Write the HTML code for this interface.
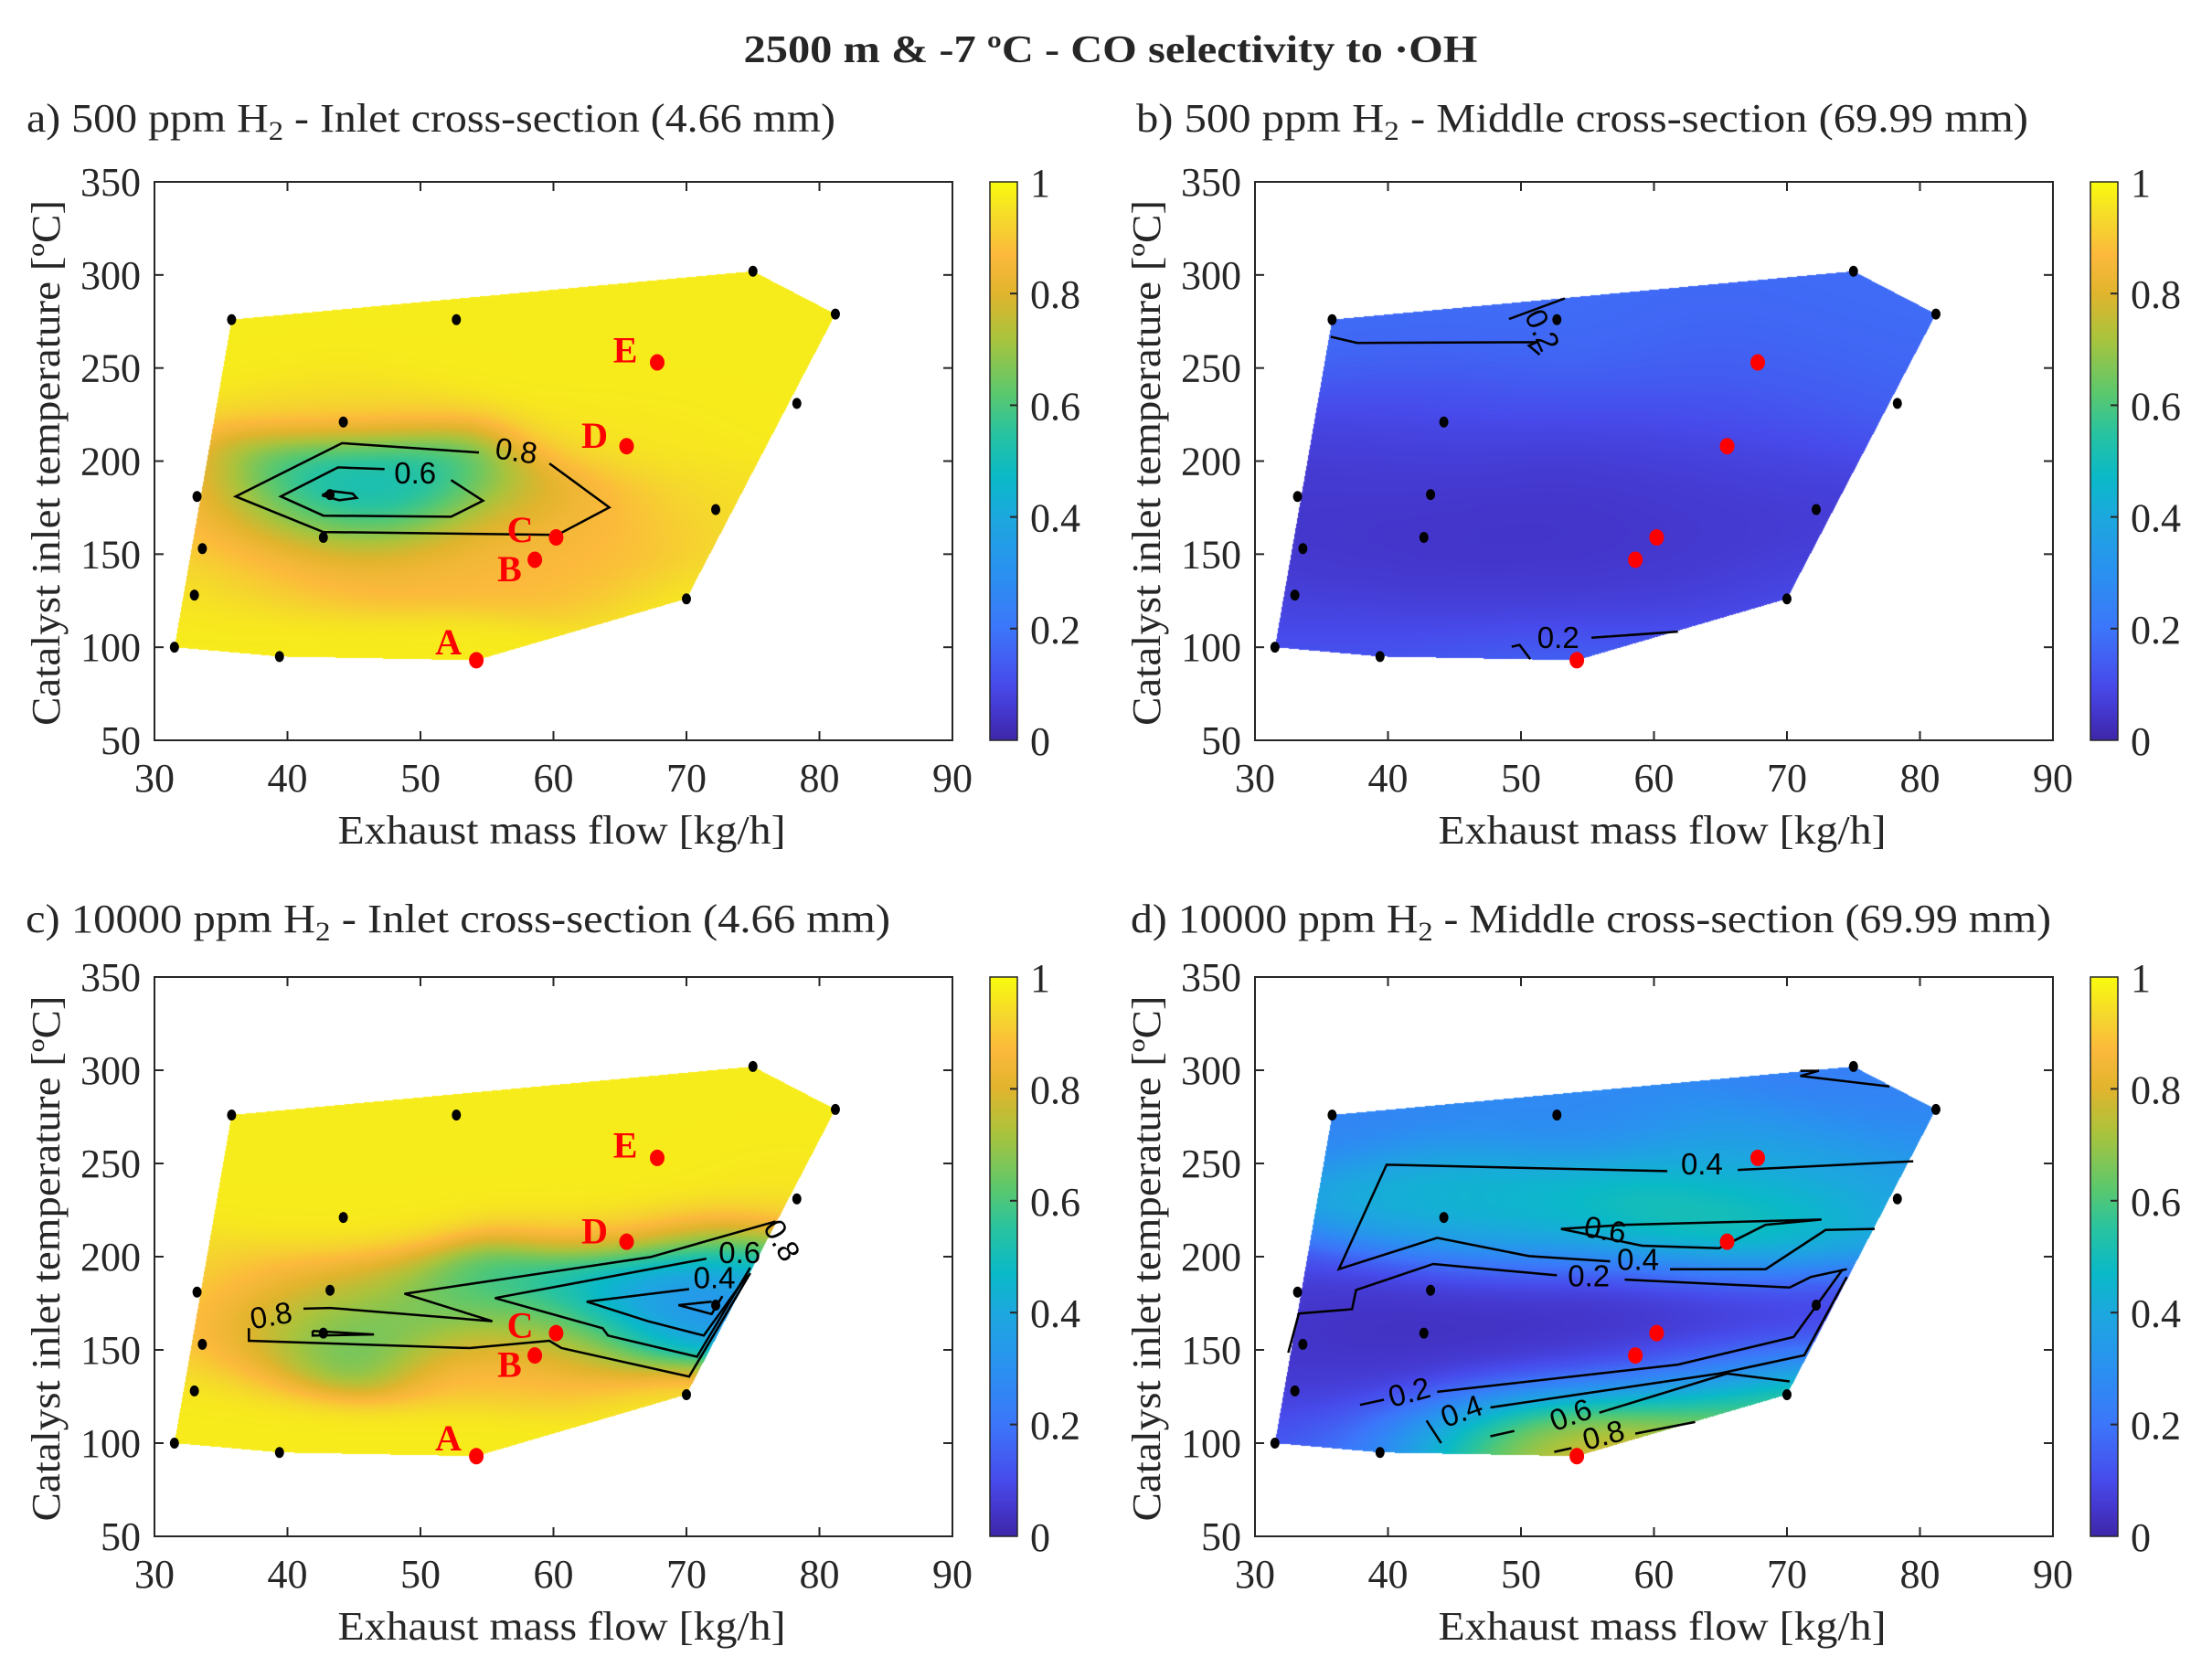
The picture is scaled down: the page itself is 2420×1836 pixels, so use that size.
<!DOCTYPE html>
<html><head><meta charset="utf-8">
<style>
html,body{margin:0;padding:0;background:#fff;}
#wrap{position:relative;width:2420px;height:1836px;overflow:hidden;background:#fff;}
canvas{position:absolute;}
svg{position:absolute;left:0;top:0;}
text{font-family:"Liberation Serif",serif;fill:#262626;}
.cl{font-family:"Liberation Sans",sans-serif;font-size:33px;fill:#000;}
.rl{font-family:"Liberation Serif",serif;font-weight:bold;font-size:40px;fill:#ff0000;}
</style></head>
<body>
<div id="wrap">
<canvas id="cvA" width="873" height="611" style="left:169px;top:199px"></canvas>
<canvas id="cvB" width="873" height="611" style="left:1373px;top:199px"></canvas>
<canvas id="cvC" width="873" height="612" style="left:169px;top:1069px"></canvas>
<canvas id="cvD" width="873" height="612" style="left:1373px;top:1069px"></canvas>
<svg id="sv" width="2420" height="1836" xmlns="http://www.w3.org/2000/svg">
<text x="1215" y="68" text-anchor="middle" font-size="42" font-weight="bold" fill="#000" textLength="803" lengthAdjust="spacingAndGlyphs">2500 m &amp; -7 ºC - CO selectivity to ·OH</text>
<text x="29" y="144" font-size="44" textLength="885" lengthAdjust="spacingAndGlyphs">a) 500 ppm H<tspan font-size="30" dy="9">2</tspan><tspan dy="-9"> - Inlet cross-section (4.66 mm)</tspan></text>
<text x="1243" y="144" font-size="44" textLength="976" lengthAdjust="spacingAndGlyphs">b) 500 ppm H<tspan font-size="30" dy="9">2</tspan><tspan dy="-9"> - Middle cross-section (69.99 mm)</tspan></text>
<text x="28" y="1020" font-size="44" textLength="946" lengthAdjust="spacingAndGlyphs">c) 10000 ppm H<tspan font-size="30" dy="9">2</tspan><tspan dy="-9"> - Inlet cross-section (4.66 mm)</tspan></text>
<text x="1237" y="1020" font-size="44" textLength="1007" lengthAdjust="spacingAndGlyphs">d) 10000 ppm H<tspan font-size="30" dy="9">2</tspan><tspan dy="-9"> - Middle cross-section (69.99 mm)</tspan></text>
<defs>
<linearGradient id="parula" x1="0" y1="1" x2="0" y2="0">
<stop offset="0" stop-color="rgb(62,38,168)"/><stop offset="0.05" stop-color="rgb(68,55,205)"/><stop offset="0.1" stop-color="rgb(71,75,235)"/><stop offset="0.2" stop-color="rgb(60,118,250)"/><stop offset="0.3" stop-color="rgb(42,145,240)"/><stop offset="0.4" stop-color="rgb(28,168,222)"/><stop offset="0.47" stop-color="rgb(10,185,200)"/><stop offset="0.55" stop-color="rgb(40,195,160)"/><stop offset="0.62" stop-color="rgb(90,200,110)"/><stop offset="0.72" stop-color="rgb(170,195,60)"/><stop offset="0.8" stop-color="rgb(225,180,45)"/><stop offset="0.87" stop-color="rgb(252,185,60)"/><stop offset="0.93" stop-color="rgb(245,215,45)"/><stop offset="1" stop-color="rgb(249,251,14)"/>
</linearGradient>
</defs>
</svg>
</div>
<script>
// ---- data ----
const xTicks=[30,40,50,60,70,80,90];
const yTicks=[50,100,150,200,250,300,350];
const cTicks=[0,0.2,0.4,0.6,0.8,1];
const hullX=[31.5,35.8,75,81.2,70,54.2,39.4];
const hullY=[100,276,302,279,126,93,95];
const blackX=[31.5,35.8,39.4,33.2,33.6,33,42.7,43.2,44.2,52.7,75,81.2,78.3,72.2,70];
const blackY=[100,276,95,181,153,128,159,182,221,276,302,279,231,174,126];
const redX=[54.2,58.6,60.2,65.5,67.8];
const redY=[93,147,159,208,253];
const redNames=["A","B","C","D","E"];
const redLblX=[52.1,56.7,57.5,63.1,65.4];
const redLblY=[103,142.4,163.5,214,260];
const baseX=blackX.concat(redX);
const baseY=blackY.concat(redY);
const bgVals=[0.97,0.16,0.97,0.27];
const valsA=[0.97,0.97,0.97,0.9,0.94,0.96,0.84,0.35,0.95,0.97,0.97,0.97,0.97,0.95,0.97,0.97,0.87,0.84,0.96,0.97];
const exAX=[50,58,50,62,40,47,38,55,66,44,44];
const exAY=[182,178,150,145,145,184,170,160,165,175,192];
const exAV=[0.55,0.76,0.86,0.88,0.88,0.42,0.82,0.84,0.9,0.45,0.55];
const valsB=[0.12,0.18,0.14,0.06,0.04,0.07,0.03,0.05,0.12,0.18,0.18,0.18,0.16,0.05,0.14,0.2,0.04,0.04,0.11,0.15];
const exBX=[35,50,60,68,45,55,40,65];
const exBY=[165,165,175,165,145,140,195,195];
const exBV=[0.03,0.03,0.03,0.04,0.04,0.05,0.07,0.08];
const valsC=[0.97,0.97,0.97,0.93,0.93,0.97,0.5,0.94,0.97,0.97,0.97,0.97,0.96,0.15,0.97,0.97,0.94,0.8,0.97,0.97];
const exCX=[55,65,69,75,48,38,55,62,72,45,60,68];
const exCY=[175,178,180,195,168,165,150,160,165,170,170,172];
const exCV=[0.5,0.35,0.2,0.6,0.65,0.82,0.9,0.72,0.45,0.6,0.5,0.25];
const valsD=[0.1,0.25,0.2,0.07,0.03,0.08,0.03,0.04,0.45,0.27,0.22,0.27,0.35,0.05,0.75,0.9,0.03,0.03,0.62,0.35];
const exDX=[40,50,60,68,36,48,62,50,60,70,45,54,58,63,50,46,66,45,55,65,35,40,55];
const exDY=[165,160,170,160,150,140,140,215,220,225,225,97,105,112,102,105,122,175,180,170,135,145,150];
const exDV=[0.02,0.02,0.02,0.04,0.03,0.04,0.1,0.5,0.55,0.5,0.45,0.88,0.85,0.8,0.7,0.4,0.6,0.03,0.03,0.03,0.05,0.03,0.03];
// contour polylines (data units)
const contA=[
 [[54.4,204.6],[44.1,209.6],[36.1,181],[42.7,161.9],[60.3,160.4],[64.2,175.1],[59.7,198.7]],
 [[47.3,195.7],[43.8,196.6],[39.5,181],[42.7,170.7],[52.3,170.1],[54.7,178.7],[52.3,189.8]],
 [[42.6,181.6],[43.2,184],[44.9,182.5],[45.2,180.2],[43.9,179],[42.6,181.6]]
];
const contALbl=["0.8","0.6"];
const contALX=[57.1,49.6];
const contALY=[200,188];
const contALR=[8,0];
const contB=[
 [[35.7,266.8],[37.7,263.5],[51.2,263.9],[50.6,262],[51.4,257.2]],
 [[49.1,276.3],[53.3,287.4]],
 [[55.3,105.1],[61.8,108.4]],
 [[49.3,100.3],[49.9,101.2],[50.7,93.6]]
];
const contBLbl=["0.2","0.2"];
const contBLX=[50.9,52.8];
const contBLY=[268,99.5];
const contBLR=[65,0];
const contC=[
 [[41.2,172.1],[43.2,172.5],[55.4,165.4],[48.8,180.1],[67.3,199.8],[76.7,218.9]],
 [[37.1,161.6],[37.1,154.9],[53.7,151],[59.7,154.9],[60.6,151],[70.2,135.7],[74.8,191.2]],
 [[71.5,198.9],[55.6,177.8],[63.7,161.6],[64.1,157.7],[70.8,146.3],[74.8,194.1]],
 [[70.2,182.6],[62.5,175.9],[67.1,165.4],[71.3,157.7],[74.6,190.3]],
 [[71.9,175.9],[69.4,174],[71.9,169.2],[72.7,178.8]],
 [[41.9,160.2],[46.5,158.3],[41.9,157.7],[41.9,160.2]]
];
const contCLbl=["0.8","0.6","0.4","0.8"];
const contCLX=[38.9,74,72.1,76.5];
const contCLY=[163,196.5,183,206];
const contCLR=[-10,0,0,60];
const contD=[
 [[79.5,251.2],[66.3,246.5]],
 [[61,245.9],[39.9,249.3],[36.3,193.3],[43.7,210.1],[50.6,200.3],[56.7,197.5]],
 [[61.2,193.3],[68.4,193.3],[72.9,214.3],[76.6,214.9]],
 [[53,214.9],[59.1,205.9],[64.9,204.5],[68.4,217.1],[72.6,219.9],[57.8,217.1],[53,214.9]],
 [[32.5,148.5],[33.3,169.5],[37.3,171.8],[37.6,182.1],[43.4,196.1],[52.7,190]],
 [[57.8,187.7],[70.2,183.5],[71.8,189.1],[74.5,193.3]],
 [[37.9,120.5],[39.7,123.3]],
 [[43.7,127.5],[61.8,142.1],[70.5,156.9],[74.2,193.3]],
 [[42.9,112.1],[44,100]],
 [[47.7,119.1],[64.9,137.3],[71.3,147.1],[74.5,189.1]],
 [[47.7,103.7],[49.5,106.5]],
 [[55.9,116.3],[65.5,137.3],[70.2,133.1]],
 [[52.5,95.3],[53.8,97.3]],
 [[58.6,105.1],[63.1,111.3]],
 [[71,299.7],[72.4,299.7],[71,296.9],[77.7,291.3]]
];
const contDLbl=["0.4","0.6","0.4","0.2","0.2","0.4","0.6","0.8"];
const contDLX=[63.6,56.2,58.8,55.1,41.8,45.8,54,56.4];
const contDLY=[244,209,193,184,122,112,110,99];
const contDLR=[0,10,0,0,-15,-20,-20,-15];
const sigX=[70,110,70,90];
const sigY=[32,55,32,40];

// ---- colormap ----
const cmPos=[0,0.05,0.1,0.2,0.3,0.4,0.47,0.55,0.62,0.72,0.8,0.87,0.93,1];
const cmCol=[[62,38,168],[68,55,205],[71,75,235],[60,118,250],[42,145,240],[28,168,222],[10,185,200],[40,195,160],[90,200,110],[170,195,60],[225,180,45],[252,185,60],[245,215,45],[249,251,14]];
function cmap(v){v=Math.max(0,Math.min(1,v));for(let i=1;i<cmPos.length;i++){if(v<=cmPos[i]){const t=(v-cmPos[i-1])/(cmPos[i]-cmPos[i-1]);const a=cmCol[i-1],b=cmCol[i];return [a[0]+(b[0]-a[0])*t,a[1]+(b[1]-a[1])*t,a[2]+(b[2]-a[2])*t];}}return cmCol[cmCol.length-1];}

const W=873;
const panels=[
 {id:"a",cv:"cvA",L:169,T:199,H:611,bg:bgVals[0],vals:valsA,ex:[exAX,exAY,exAV],cont:contA,lbl:[contALbl,contALX,contALY,contALR],letters:true},
 {id:"b",cv:"cvB",L:1373,T:199,H:611,bg:bgVals[1],vals:valsB,ex:[exBX,exBY,exBV],cont:contB,lbl:[contBLbl,contBLX,contBLY,contBLR],letters:false},
 {id:"c",cv:"cvC",L:169,T:1069,H:612,bg:bgVals[2],vals:valsC,ex:[exCX,exCY,exCV],cont:contC,lbl:[contCLbl,contCLX,contCLY,contCLR],letters:true},
 {id:"d",cv:"cvD",L:1373,T:1069,H:612,bg:bgVals[3],vals:valsD,ex:[exDX,exDY,exDV],cont:contD,lbl:[contDLbl,contDLX,contDLY,contDLR],letters:false}
];
function inPoly(x,y,px,py){let c=false;for(let i=0,j=px.length-1;i<px.length;j=i++){if(((py[i]>y)!=(py[j]>y))&&(x<(px[j]-px[i])*(y-py[i])/(py[j]-py[i])+px[i]))c=!c;}return c;}

const NS="http://www.w3.org/2000/svg";
const sv=document.getElementById("sv");
function mk(tag,attrs,parent){const e=document.createElementNS(NS,tag);for(const k in attrs)e.setAttribute(k,attrs[k]);(parent||sv).appendChild(e);return e;}

panels.forEach((p,pi)=>{
 const sx=v=>(v-30)/60*W, sy=v=>(350-v)/300*p.H;
 const cv=document.getElementById(p.cv);const ctx=cv.getContext("2d");
 const img=ctx.createImageData(W,p.H);
 const PX=[],PY=[],PV=[];
 for(let i=0;i<baseX.length;i++){PX.push(sx(baseX[i]));PY.push(sy(baseY[i]));PV.push(p.vals[i]);}
 for(let i=0;i<p.ex[0].length;i++){PX.push(sx(p.ex[0][i]));PY.push(sy(p.ex[1][i]));PV.push(p.ex[2][i]);}
 const hx=hullX.map(sx),hy=hullY.map(sy);
 const ax=1/(2*sigX[pi]*sigX[pi]), ay=1/(2*sigY[pi]*sigY[pi]), w0=0.1;
 for(let y=0;y<p.H;y++){for(let x=0;x<W;x++){
  if(!inPoly(x+0.5,y+0.5,hx,hy))continue;
  let sw=w0,sv2=w0*p.bg;
  for(let k=0;k<PX.length;k++){const dx=x-PX[k],dy=y-PY[k];const w=Math.exp(-(dx*dx*ax+dy*dy*ay));sw+=w;sv2+=w*PV[k];}
  const c=cmap(sv2/sw);const o=(y*W+x)*4;img.data[o]=c[0];img.data[o+1]=c[1];img.data[o+2]=c[2];img.data[o+3]=255;
 }}
 ctx.putImageData(img,0,0);

 const g=mk("g",{transform:`translate(${p.L},${p.T})`});
 
 
 p.cont.forEach(line=>{
  const pl=mk("polyline",{points:line.map(q=>sx(q[0]).toFixed(1)+","+sy(q[1]).toFixed(1)).join(" "),fill:"none",stroke:"#000","stroke-width":2.5},g);
  
  
 });
 const [lt,lx,ly,lr]=p.lbl;
 lt.forEach((t,i)=>{
  const X=sx(lx[i]),Y=sy(ly[i]);
  const tx=mk("text",{x:X,y:Y,"text-anchor":"middle",class:"cl",transform:`rotate(${lr[i]},${X},${Y})`},g);
  tx.textContent=t;
  
  
 });
 blackX.forEach((v,i)=>{
  const c=mk("ellipse",{cx:sx(v),cy:sy(blackY[i]),rx:5,ry:6,fill:"#000"},g);
  
  
 });
 redX.forEach((v,i)=>{
  const c=mk("ellipse",{cx:sx(v),cy:sy(redY[i]),rx:8,ry:9,fill:"#ff0000"},g);
  
  
  if(p.letters){
   const t=mk("text",{x:sx(redLblX[i]),y:sy(redLblY[i])+14,"text-anchor":"middle",class:"rl"},g);
   t.textContent=redNames[i];
   
   
  }
 });
 const box=mk("rect",{x:0,y:0,width:W,height:p.H,fill:"none",stroke:"#262626","stroke-width":2},g);
 
 
 xTicks.forEach(v=>{
  const X=sx(v);
  mk("line",{x1:X,y1:p.H,x2:X,y2:p.H-10,stroke:"#262626","stroke-width":2},g);
  mk("line",{x1:X,y1:0,x2:X,y2:10,stroke:"#262626","stroke-width":2},g);
  const t=mk("text",{x:X,y:p.H+56,"text-anchor":"middle","font-size":44},g);
  t.textContent=v;
  
  
 });
 yTicks.forEach(v=>{
  const Y=sy(v);
  mk("line",{x1:0,y1:Y,x2:10,y2:Y,stroke:"#262626","stroke-width":2},g);
  mk("line",{x1:W,y1:Y,x2:W-10,y2:Y,stroke:"#262626","stroke-width":2},g);
  const t=mk("text",{x:-15,y:Y+15,"text-anchor":"end","font-size":44},g);
  t.textContent=v;
  
  
 });
 const xl=mk("text",{x:W/2+9,y:p.H+113,"text-anchor":"middle","font-size":44,textLength:490,lengthAdjust:"spacingAndGlyphs"},g);
 xl.textContent="Exhaust mass flow [kg/h]";
 
 
 const yx=-104,yy=p.H/2+2;
 const yl=mk("text",{x:yx,y:yy,"text-anchor":"middle","font-size":44,textLength:575,lengthAdjust:"spacingAndGlyphs",transform:`rotate(-90,${yx},${yy})`},g);
 yl.textContent="Catalyst inlet temperature [ºC]";
 
 
 const cbx=W+41;
 const cb=mk("rect",{x:cbx,y:0,width:30,height:p.H,fill:"url(#parula)",stroke:"#262626","stroke-width":1.5},g);
 
 
 cTicks.forEach(v=>{
  const Y=p.H*(1-v);
  if(v>0&&v<1)mk("line",{x1:cbx+22,y1:Y,x2:cbx+30,y2:Y,stroke:"#262626","stroke-width":2},g);
  const t=mk("text",{x:cbx+44,y:Y+16,"font-size":44},g);
  t.textContent=v;
  
  
 });
});
</script>
</body></html>
